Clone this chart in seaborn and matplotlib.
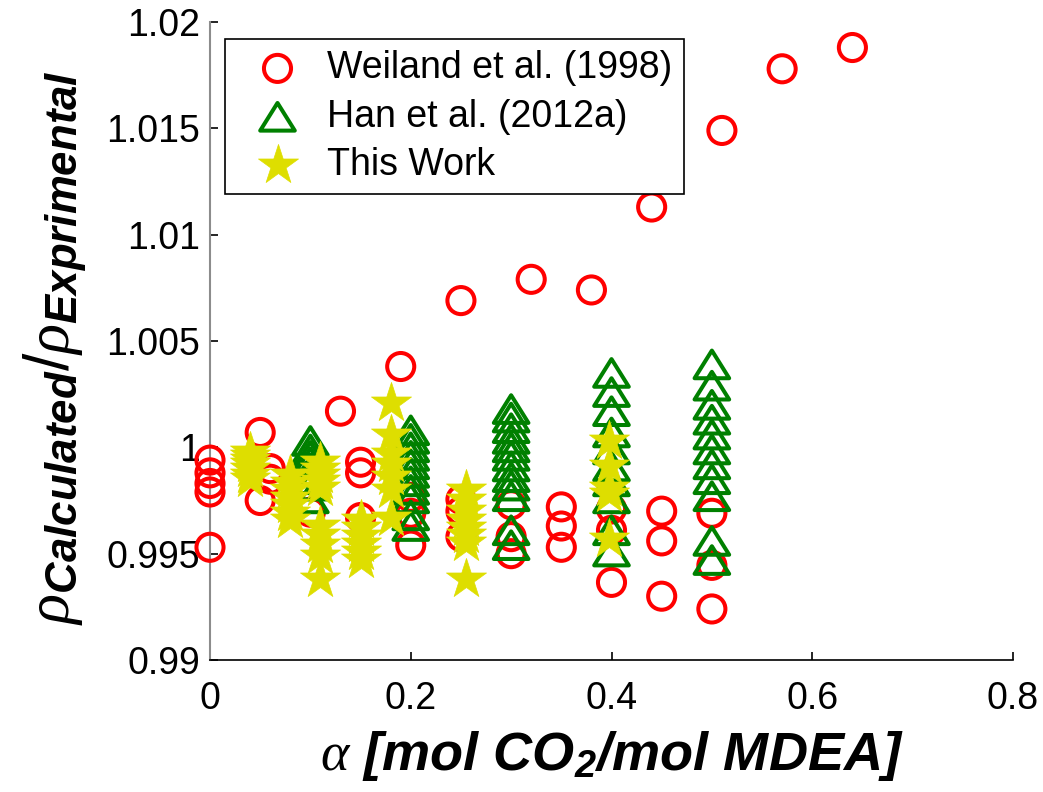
import numpy as np
import pandas as pd
import matplotlib
matplotlib.use("Agg")
import matplotlib.pyplot as plt
from matplotlib.path import Path
from matplotlib.markers import MarkerStyle
import seaborn as sns

# Weiland et al. (1998): CO2 loading groups and density ratios
weiland_loadings = [0.00, 0.05, 0.06, 0.10, 0.13, 0.15, 0.19, 0.20, 0.25, 0.30,
                    0.32, 0.35, 0.38, 0.40, 0.44, 0.45, 0.50, 0.51, 0.57, 0.64]
weiland_ratios = [
    [0.9994, 0.9988, 0.9983, 0.9979, 0.9953],
    [1.0007, 0.9975],
    [0.9990, 0.9985],
    [0.99695],
    [1.0017],
    [0.9993, 0.9988, 0.9967],
    [1.0038],
    [0.99765, 0.9969, 0.9954],
    [1.0069, 0.99755, 0.9970, 0.9958],
    [0.9973, 0.9958, 0.9950],
    [1.0079],
    [0.9972, 0.9963, 0.9953],
    [1.0074],
    [0.9971, 0.9961, 0.99365],
    [1.0113],
    [0.9970, 0.9956, 0.9930],
    [0.9969, 0.99445, 0.9924],
    [1.0149],
    [1.0178],
    [1.0188],
]

# Han et al. (2012a)
han_loadings = [0.1, 0.2, 0.3, 0.4, 0.5]
han_ratios = [
    [1.0003, 0.9999, 0.9996, 0.9993, 0.9989, 0.9985, 0.9982, 0.9976],
    [1.0008, 1.0004, 1.0000, 0.9996, 0.9992, 0.9988, 0.9984, 0.9980, 0.9976,
     0.9968, 0.9963],
    [1.0018, 1.0014, 1.0009, 1.0004, 1.0000, 0.9996, 0.9991, 0.9986, 0.9982,
     0.9977, 0.9961, 0.9954],
    [1.0035, 1.0026, 1.0017, 1.0007, 0.9999, 0.9991, 0.9984, 0.9976, 0.9961,
     0.9951],
    [1.0039, 1.0029, 1.0020, 1.0013, 1.0006, 0.9999, 0.9992, 0.9985, 0.9977,
     0.9956, 0.9947],
]

# This work
work_loadings = [0.04, 0.08, 0.11, 0.15, 0.18, 0.255, 0.398]
work_ratios = [
    [0.9998, 0.9996, 0.9994, 0.9992, 0.9990, 0.9987, 0.9985],
    [0.9987, 0.9983, 0.9980, 0.9976, 0.9973, 0.9969, 0.9966],
    [0.9993, 0.9990, 0.9987, 0.9984, 0.9981,
     0.9963, 0.9959, 0.9954, 0.9949, 0.9938],
    [0.99656, 0.99619, 0.99581, 0.99544, 0.99506, 0.99468],
    [1.0021, 1.0006, 0.9997, 0.9992, 0.9986, 0.9980, 0.9967],
    [0.9980, 0.9975, 0.9970, 0.9966, 0.9962, 0.9959, 0.9955, 0.9938],
    [1.0003, 0.9991, 0.9981, 0.9978, 0.9957],
]

x_ticks = [0, 0.2, 0.4, 0.6, 0.8]
x_tick_labels = ["0", "0.2", "0.4", "0.6", "0.8"]
y_ticks = [0.99, 0.995, 1.0, 1.005, 1.01, 1.015, 1.02]
y_tick_labels = ["0.99", "0.995", "1", "1.005", "1.01", "1.015", "1.02"]


def long_form(loadings, groups):
    rows = [(a, r) for a, grp in zip(loadings, groups) for r in grp]
    return pd.DataFrame(rows, columns=["alpha", "ratio"])


weiland = long_form(weiland_loadings, weiland_ratios)
han = long_form(han_loadings, han_ratios)
work = long_form(work_loadings, work_ratios)

sns.set_style("white")
plt.rcParams["font.family"] = ["Liberation Sans", "DejaVu Sans"]
plt.rcParams["text.color"] = "black"
plt.rcParams["axes.labelcolor"] = "black"
plt.rcParams["mathtext.fontset"] = "custom"
plt.rcParams["mathtext.rm"] = "Liberation Sans"
plt.rcParams["mathtext.it"] = "Liberation Serif:italic"
plt.rcParams["mathtext.bf"] = "Liberation Sans:bold:italic"

fig = plt.figure(figsize=(10.43, 7.92), dpi=100)
ax = fig.add_axes([210 / 1043, 1 - 660 / 792, 803 / 1043, 638 / 792])

# wide open triangle, mitred corners
tri_path = Path([[0, 0.8], [-1, -0.8], [1, -0.8], [0, 0.8]], closed=True)
tri_marker = MarkerStyle(tri_path, joinstyle="miter")

sns.scatterplot(data=weiland, x="alpha", y="ratio", ax=ax, marker="o", s=380,
                facecolors="none", edgecolor="#FF0000", linewidth=2.9,
                label="Weiland et al. (1998)", clip_on=False, zorder=3)
sns.scatterplot(data=han, x="alpha", y="ratio", ax=ax, marker=tri_marker, s=620,
                facecolors="none", edgecolor="#008000", linewidth=2.9,
                label="Han et al. (2012a)", clip_on=False, zorder=4)
sns.scatterplot(data=work, x="alpha", y="ratio", ax=ax, marker="*", s=920,
                color="#DEDE00", edgecolor="#DEDE00", linewidth=0.5,
                label="This Work", clip_on=False, zorder=5)

ax.set_xlim(0, 0.8)
ax.set_ylim(0.99, 1.02)
ax.set_xticks(x_ticks)
ax.set_xticklabels(x_tick_labels)
ax.set_yticks(y_ticks)
ax.set_yticklabels(y_tick_labels)
ax.tick_params(which="both", direction="in", length=6, width=1.2, color="black",
               labelsize=27, labelcolor="black", bottom=True, left=True)
ax.tick_params(axis="y", pad=7)
ax.tick_params(axis="x", pad=15)

for side in ["top", "right"]:
    ax.spines[side].set_visible(False)
ax.spines["left"].set_color("#8c8c8c")
ax.spines["left"].set_linewidth(1.5)
ax.spines["bottom"].set_color("black")
ax.spines["bottom"].set_linewidth(1.2)

ax.set_xlabel(r"$\alpha$ [mol CO$_{\mathbf{2}}$/mol MDEA]", fontsize=39,
              fontweight="bold", fontstyle="italic")
ax.xaxis.set_label_coords(0.5, -0.108)
ax.set_ylabel(r"$\rho_{\mathbf{Calculated}}/\rho_{\mathbf{Exprimental}}$",
              fontsize=45)
ax.yaxis.set_label_coords(-0.151, 0.49)

leg = ax.legend(loc="upper left", bbox_to_anchor=(15 / 803, (660 - 39) / 638),
                borderaxespad=0, frameon=True, fancybox=False, shadow=False,
                edgecolor="black", framealpha=1, fontsize=27, scatterpoints=1,
                handlelength=2.2, handletextpad=0.22, borderpad=0.3,
                labelspacing=0.33)
leg.get_frame().set_linewidth(1.2)

fig.savefig("out.png", dpi=100)
